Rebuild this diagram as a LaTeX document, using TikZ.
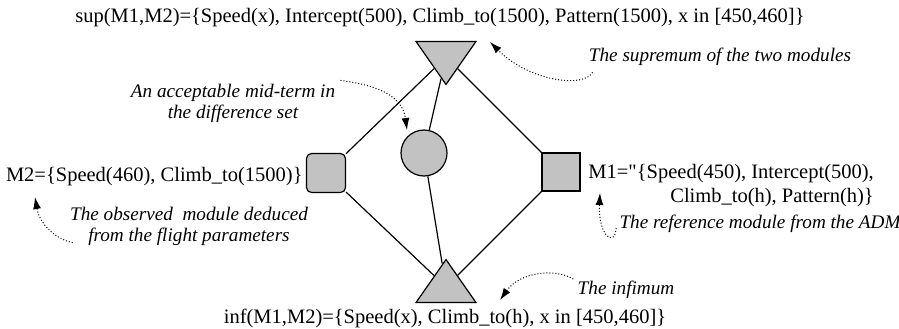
\documentclass[tikz,border=0pt]{standalone}
\usepackage{fontspec}
\setmainfont{Liberation Serif}[Ligatures=TeXOff]
\usetikzlibrary{shapes.geometric,arrows.meta}

\begin{document}
\begin{tikzpicture}[x=0.5pt,y=-0.5pt,
    mod/.style={draw,fill=black!24,line width=0.6pt,inner sep=0pt},
    tri/.style={mod,isosceles triangle,isosceles triangle stretches,
      shape border rotate=#1,minimum width=30pt,minimum height=21.5pt},
    setlbl/.style={font=\fontsize{10.25}{12}\selectfont,inner sep=0pt},
    note/.style={font=\fontsize{9.6}{10.5}\selectfont\itshape,inner sep=0pt,align=center},
    link/.style={line width=0.6pt},
    hint/.style={densely dotted,line width=0.5pt,-{Latex[length=6pt,width=4pt]}}]
  \useasboundingbox (0,0) rectangle (899,328);
  % Modulene
  \node[tri=270,anchor=apex] (sup) at (446,86) {};
  \node[tri=90,anchor=apex] (inf) at (446,258) {};
  \node[mod,circle,minimum size=23pt] (mid) at (424,153) {};
  \node[mod,rounded corners=2.5pt,minimum size=19.5pt] (m2) at (326,173) {};
  \node[mod,minimum size=19pt] (m1) at (561,172) {};
  % Kanter
  \foreach \a/\b in {sup/m2,sup/m1,sup/mid,mid/inf,m2/inf,m1/inf}
    \draw[link] (\a) -- (\b);
  % Mengder
  \node[setlbl] (supset) at (440,18)
    {sup(M1,M2)=\{Speed(x), Intercept(500), Climb\_to(1500), Pattern(1500), x in [450,460]\}};
  \node[setlbl] (infset) at (445,318)
    {inf(M1,M2)=\{Speed(x), Climb\_to(h), x in [450,460]\}};
  \node[setlbl,anchor=east] (m2set) at (303,177)
    {M2=\{Speed(460), Climb\_to(1500)\}};
  \node[setlbl,anchor=north west,align=right] (m1set) at (588,164)
    {M1="\{Speed(450), Intercept(500),\\ Climb\_to(h), Pattern(h)\}};
  % Kommentarer
  \node[note] (supnote) at (720,57) {The supremum of the two modules};
  \node[note] (midnote) at (233,103) {An acceptable mid-term in\\ the difference set};
  \node[note] (m2note) at (189,226) {The observed\ \ module deduced\\ from the flight parameters};
  \node[note] (m1note) at (760,224) {The reference module from the ADM};
  \node[note] (infnote) at (626,290) {The infimum};
  % Pilspisser
  \coordinate (supTip) at (490,42);
  \coordinate (midTip) at (407,130);
  \coordinate (m2Tip) at (35,197);
  \coordinate (m1Tip) at (600,193);
  \coordinate (infTip) at (500,300);
  \draw[hint] (supnote.south west) ++(4,6) .. controls (585,88) and (530,82) .. (supTip);
  \draw[hint] (midnote.north east) ++(5,-3) .. controls (368,84) and (402,92) .. (midTip);
  \draw[hint] (m2note.south west) ++(3,-3) .. controls (58,240) and (40,226) .. (m2Tip);
  \draw[hint] (m1note.west) ++(-3,4) .. controls (615,248) and (598,236) .. (m1Tip);
  \draw[hint] (infnote.west) ++(-4,-11) .. controls (555,268) and (520,272) .. (infTip);
\end{tikzpicture}
\end{document}
